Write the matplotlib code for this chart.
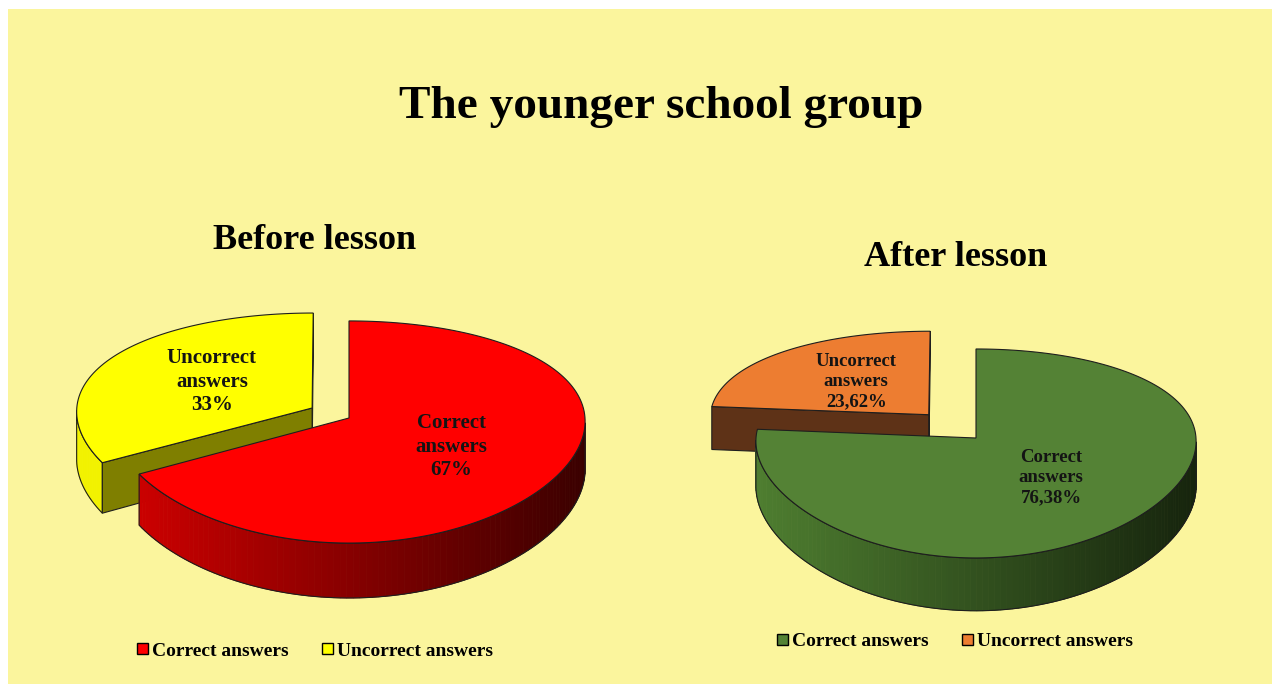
import numpy as np
import matplotlib.pyplot as plt
from matplotlib.patches import Polygon, Rectangle, Patch
from matplotlib.colors import to_rgb

# data
title = 'The younger school group'
categories = ['Correct answers', 'Uncorrect answers']
before_title = 'Before lesson'
before_values = [67, 33]
after_title = 'After lesson'
after_values = [76.38, 23.62]

# styles
bg = '#FBF59D'
edge = '#1e1e1e'
before_top = ['#FF0000', '#FFFF00']
before_side = [('#D40000', '#3A0000'), ('#F2F200', '#505000')]
before_wall = ['#800000', '#7F7F00']
after_top = ['#548235', '#ED7D31']
after_side = [('#4E7E30', '#16240D'), ('#C0651F', '#5C3217')]
after_wall = ['#2A4219', '#5E3217']

serif = 'Liberation Serif'


def is_front(poly):
    x = poly[:, 0]
    y = -poly[:, 1]
    area = 0.5 * np.sum(x * np.roll(y, -1) - np.roll(x, -1) * y)
    return area > 0.5


def pie3d(ax, values, tops, sides, walls, cx, cy, rx, ry, p, depth,
          explode, labelsize, px=0.03):
    total = float(sum(values))

    def proj(u, v, z):
        f = 1.0 / (1.0 + p * v)
        fx = 1.0 / (1.0 + px * v)
        return np.column_stack([cx + rx * u * fx, cy - ry * v * f + depth * z * f])

    # slices go clockwise from 12 o'clock
    slices = []
    a_end = 90.0
    for i, val in enumerate(values):
        span = 360.0 * val / total
        a_start = a_end - span
        slices.append((i, a_start, a_end))
        a_end = a_start
    # back slices first
    slices.sort(key=lambda s: -np.sin(np.radians((s[1] + s[2]) / 2)))

    for i, a1, a2 in slices:
        mid = np.radians((a1 + a2) / 2)
        ox = explode[i] * np.cos(mid)
        oy = explode[i] * np.sin(mid)
        n = max(int((a2 - a1) / 1.5), 6)
        th = np.radians(np.linspace(a1, a2, n))
        u = ox + np.cos(th)
        v = oy + np.sin(th)
        top = proj(u, v, 0)
        bot = proj(u, v, 1)
        ctop = proj(np.array([ox]), np.array([oy]), 0)[0]
        cbot = proj(np.array([ox]), np.array([oy]), 1)[0]

        # outer side, shaded left to right
        light = np.array(to_rgb(sides[i][0]))
        dark = np.array(to_rgb(sides[i][1]))
        vis = []
        for k in range(n - 1):
            quad = np.array([top[k], bot[k], bot[k + 1], top[k + 1]])
            if is_front(quad):
                t = (quad[:, 0].mean() - (cx - rx)) / (2 * rx)
                t = min(max(t, 0), 1)
                col = light + (dark - light) * t
                ax.add_patch(Polygon(quad, closed=True, fc=col, ec=col, lw=0.6))
                vis.append(k)
        if vis:
            runs = []
            start = vis[0]
            prev = vis[0]
            for k in vis[1:]:
                if k != prev + 1:
                    runs.append((start, prev))
                    start = k
                prev = k
            runs.append((start, prev))
            for k0, k1 in runs:
                outline = np.vstack([top[k0:k1 + 2], bot[k0:k1 + 2][::-1]])
                ax.add_patch(Polygon(outline, closed=True, fc='none', ec=edge, lw=0.8))

        # radial walls
        w2 = np.array([ctop, top[-1], bot[-1], cbot])
        w1 = np.array([ctop, cbot, bot[0], top[0]])
        for w in (w1, w2):
            if is_front(w):
                ax.add_patch(Polygon(w, closed=True, fc=walls[i], ec=edge, lw=0.8))

        # top face
        face = np.vstack([ctop, top])
        ax.add_patch(Polygon(face, closed=True, fc=tops[i], ec=edge, lw=0.8))

        # label
        pos = proj(np.array([ox + 0.5 * np.cos(mid)]),
                   np.array([oy + 0.5 * np.sin(mid)]), 0)[0]
        pct = ('%g' % values[i]).replace('.', ',') + '%'
        txt = categories[i].replace(' ', '\n') + '\n' + pct
        ax.text(pos[0], pos[1], txt, ha='center', va='center',
                fontsize=labelsize, fontweight='bold', family=serif,
                color='#141414', linespacing=1.25, zorder=5)


fig = plt.figure(figsize=(12.79, 6.87), dpi=100)
fig.patch.set_facecolor('white')
ax = fig.add_axes([0, 0, 1, 1])
ax.set_xlim(0, 1279)
ax.set_ylim(687, 0)
ax.axis('off')

ax.add_patch(Rectangle((8, 9), 1264, 675, fc=bg, ec='none', zorder=0))

ax.text(661, 118, title, ha='center', va='baseline', fontsize=34,
        fontweight='bold', family=serif, color='black')
ax.text(315, 249, before_title, ha='center', va='baseline', fontsize=26,
        fontweight='bold', family=serif, color='black')
ax.text(956, 266, after_title, ha='center', va='baseline', fontsize=26,
        fontweight='bold', family=serif, color='black')

pie3d(ax, before_values, before_top, before_side, before_wall,
      cx=349, cy=418, rx=236, ry=109.3, p=0.126, depth=48,
      explode=[0, 0.182], labelsize=15)
pie3d(ax, after_values, after_top, after_side, after_wall,
      cx=976, cy=438, rx=220, ry=102.2, p=0.148, depth=45,
      explode=[0, 0.32], labelsize=13.5)

font = {'family': serif, 'weight': 'bold', 'size': 14}
leg1 = ax.legend(handles=[Patch(fc=c, ec='black', lw=1.0) for c in before_top],
                 labels=categories, loc='center', bbox_to_anchor=(315, 651),
                 bbox_transform=ax.transData, ncol=2, frameon=False, prop=font,
                 handlelength=0.55, handleheight=0.55, handletextpad=0.2,
                 columnspacing=1.75, borderpad=0)
ax.add_artist(leg1)
ax.legend(handles=[Patch(fc=c, ec='black', lw=1.0) for c in after_top],
          labels=categories, loc='center', bbox_to_anchor=(955, 642),
          bbox_transform=ax.transData, ncol=2, frameon=False, prop=font,
          handlelength=0.55, handleheight=0.55, handletextpad=0.2,
          columnspacing=1.75, borderpad=0)

fig.savefig('out.png', dpi=100, facecolor=fig.get_facecolor())
